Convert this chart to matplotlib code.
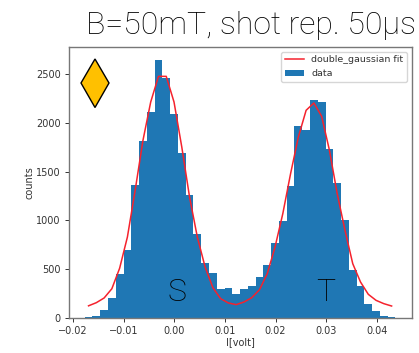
import matplotlib
matplotlib.use("Agg")
import matplotlib.pyplot as plt
from matplotlib.patches import Polygon
import numpy as np

# histogram of the readout signal
bin_start = -0.01768
bin_width = 0.001534
counts = [15, 25, 80, 210, 450, 695, 1360, 1815, 2110, 2650,
          2460, 2095, 1690, 1265, 860, 565, 465, 295, 305, 245,
          300, 330, 420, 540, 770, 990, 1350, 1965, 1925, 2240,
          2220, 1730, 1380, 1010, 490, 325, 140, 75, 25, 15]

# fit evaluated at the bin centres
fit = [125, 157, 205, 300, 510, 830, 1310, 1820, 2215, 2478,
       2478, 2215, 1753, 1240, 830, 523, 311, 198, 154, 137,
       164, 208, 290, 455, 728, 1070, 1480, 1856, 2130, 2205,
       2068, 1720, 1275, 900, 557, 369, 243, 181, 147, 123]

xticks = [-0.02, -0.01, 0.00, 0.01, 0.02, 0.03, 0.04]
yticks = [0, 500, 1000, 1500, 2000, 2500]

edges = bin_start + bin_width * np.arange(len(counts) + 1)
centers = (edges[:-1] + edges[1:]) / 2

W, H = 419, 353
fig = plt.figure(figsize=(W / 100, H / 100), dpi=100)
ax = fig.add_axes([69 / W, 1 - 318 / H, 343 / W, 271 / H])

ax.hist(centers, bins=edges, weights=counts, color="#1f77b4", label="data")
ax.plot(centers, fit, color="#f5222d", linewidth=1.1, label="double_gaussian fit")

ax.set_xlim(-0.02077, 0.04694)
ax.set_ylim(0, 2779)
ax.set_xticks(xticks)
ax.set_yticks(yticks)
ax.set_xticklabels(["\u22120.02", "\u22120.01", "0.00", "0.01", "0.02", "0.03", "0.04"])
ax.tick_params(labelsize=7, length=3, width=0.7, colors="#333333", pad=3)
ax.set_xlabel("I[volt]", fontsize=7, color="#333333", labelpad=0.5)
ax.set_ylabel("counts", fontsize=7, color="#333333", labelpad=1)
for s in ax.spines.values():
    s.set_color("#777777")
    s.set_linewidth(1.0)

handles, labels = ax.get_legend_handles_labels()
ax.legend(handles[::-1], labels[::-1], loc="upper right", fontsize=6.8, labelcolor="#333333")

ax.text(0.0005, 171, "S", fontsize=23, family="Roboto", fontweight="light", color="black", ha="center", va="baseline")
ax.text(0.03, 171, "T", fontsize=23, family="Roboto", fontweight="light", color="black", ha="center", va="baseline")
fig.text(416 / W, 1 - 33.5 / H, "B=50mT, shot rep. 50\u00b5s", fontsize=23, family="Roboto",
         fontweight="light", ha="right", va="baseline", color="black")

# orange diamond pasted on the top left
diamond = Polygon([(81 / W, 1 - 83 / H), (95 / W, 1 - 59 / H), (109 / W, 1 - 83 / H), (95 / W, 1 - 107.5 / H)],
                  closed=True, facecolor="#ffc000", edgecolor="black", linewidth=1.0,
                  transform=fig.transFigure, zorder=5)
fig.add_artist(diamond)

fig.savefig("out.png", dpi=100)
